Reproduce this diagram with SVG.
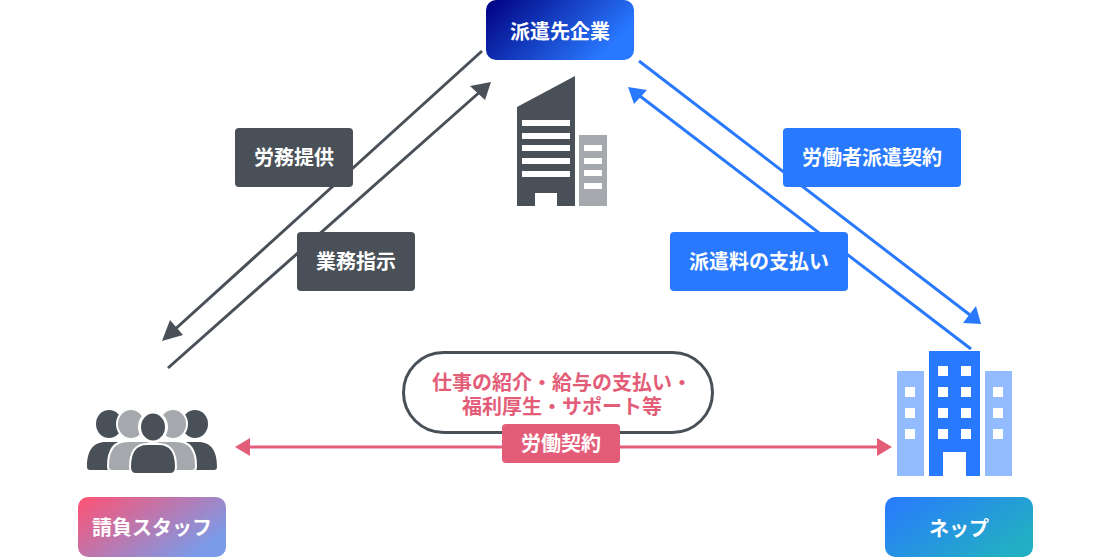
<svg xmlns="http://www.w3.org/2000/svg" width="1120" height="560" viewBox="0 0 1120 560">
<style>
text{font-family:"Noto Sans CJK JP","Noto Sans",sans-serif;font-weight:700;text-anchor:middle;font-size:20px}
.w{fill:#fff}.p{fill:#e35d78}
.dk{fill:#495057}.lg{fill:#a5a9ad}.bl{fill:#2979ff}.lb{fill:#93bbff}.pk{fill:#e35d78}
.ld{stroke:#495057;stroke-width:3;fill:none}.lbl{stroke:#2979ff;stroke-width:3;fill:none}.lp{stroke:#e35d78;stroke-width:3;fill:none}
</style>
<defs>
<linearGradient id="g1" x1="0" y1="0" x2="1" y2="0.4"><stop offset="0" stop-color="#000080"/><stop offset="1" stop-color="#2979ff"/></linearGradient>
<linearGradient id="g2" x1="0" y1="0" x2="1" y2="0.6"><stop offset="0" stop-color="#ff5273"/><stop offset="1" stop-color="#7b9be8"/></linearGradient>
<linearGradient id="g3" x1="0" y1="0" x2="1" y2="0.6"><stop offset="0" stop-color="#2979ff"/><stop offset="1" stop-color="#22aec4"/></linearGradient>
</defs>
<g id="connectors">
<path class="ld" d="M482 51L172 332"/><polygon class="dk" points="162,341 170,320 183,335"/>
<path class="ld" d="M168 368L482 90"/><polygon class="dk" points="491,82 485,100 470,86"/>
<path class="lbl" d="M639 61L970 315"/><polygon class="bl" points="981,324 963,323 976,306"/>
<path class="lbl" d="M971 349L636 93"/><polygon class="bl" points="628,87 647,90 634,104"/>
<path class="lp" d="M248 447H878"/><polygon class="pk" points="235,447 250,438 250,456"/><polygon class="pk" points="892,447 877,438 877,456"/>
</g>
<g id="client">
<rect x="486" y="0" width="148" height="60" rx="10" fill="url(#g1)"/>
<text class="w" x="560" y="39">派遣先企業</text>
<path class="dk" d="M517 107L575 76V206H557V193H535V206H517Z"/>
<path class="w" d="M522 120H570V126H522ZM522 133H570V139H522ZM522 145H570V151H522ZM522 158H570V164H522ZM522 171H570V177H522Z"/>
<rect class="lg" x="579" y="135" width="28" height="71"/>
<path class="w" d="M584 145H602V151H584ZM584 158H602V164H584ZM584 170H602V176H584ZM584 183H602V189H584Z"/>
</g>
<g id="staff">
<ellipse class="dk" cx="109" cy="424" rx="13" ry="14"/><ellipse class="dk" cx="195" cy="424" rx="13" ry="14"/>
<path class="dk" d="M87 467C87 452 92 442 106 442L125 442V470H90Q87 470 87 467ZM217 467C217 452 212 442 198 442L179 442V470H214Q217 470 217 467Z"/>
<ellipse class="lg" cx="131" cy="424" rx="14" ry="15" stroke="#fff" stroke-width="2"/><ellipse class="lg" cx="173" cy="424" rx="14" ry="15" stroke="#fff" stroke-width="2"/>
<path class="lg" d="M108 466C108 450 114 441 128 441L176 441C190 441 196 450 196 466Q196 471 192 471H112Q108 471 108 466Z" stroke="#fff" stroke-width="2"/>
<ellipse class="dk" cx="153" cy="427" rx="13.500" ry="15" stroke="#fff" stroke-width="3"/>
<path class="dk" d="M130 467C130 451 136 444 147 444H159C170 444 176 451 176 467Q176 474 170 474H136Q130 474 130 467Z" stroke="#fff" stroke-width="2"/>
<rect x="78" y="497" width="148" height="60" rx="10" fill="url(#g2)"/>
<text class="w" x="152" y="535">請負スタッフ</text>
</g>
<g id="nep">
<rect class="bl" x="929" y="351" width="51" height="125"/>
<rect class="w" x="943" y="452" width="23" height="24"/>
<path class="w" d="M938 366h10v10h-10ZM961 366h10v10h-10ZM938 387h10v10h-10ZM961 387h10v10h-10ZM938 408h10v10h-10ZM961 408h10v10h-10ZM938 429h10v10h-10ZM961 429h10v10h-10Z"/>
<rect class="lb" x="897" y="371" width="27" height="105"/><rect class="lb" x="985" y="371" width="27" height="105"/>
<path class="w" d="M905 387h10v10h-10ZM905 408h10v10h-10ZM905 429h10v10h-10ZM993 387h10v10h-10ZM993 408h10v10h-10ZM993 429h10v10h-10Z"/>
<rect x="885" y="497" width="148" height="60" rx="10" fill="url(#g3)"/>
<text class="w" x="959" y="536">ネップ</text>
</g>
<g id="label-roumu"><rect class="dk" x="235" y="128" width="118" height="59" rx="4"/><text class="w" x="294" y="165">労務提供</text></g>
<g id="label-gyomu"><rect class="dk" x="297" y="232" width="118" height="59" rx="4"/><text class="w" x="356" y="269">業務指示</text></g>
<g id="label-haken"><rect class="bl" x="783" y="128" width="178" height="59" rx="4"/><text class="w" x="872" y="165">労働者派遣契約</text></g>
<g id="label-shiharai"><rect class="bl" x="670" y="232" width="178" height="59" rx="4"/><text class="w" x="759" y="269">派遣料の支払い</text></g>
<g id="pill"><rect x="403.500" y="352.500" width="309" height="80" rx="40" fill="#fff" stroke="#495057" stroke-width="3"/>
<text class="p"><tspan x="562" y="390">仕事の紹介・給与の支払い・</tspan><tspan x="562" y="414">福利厚生・サポート等</tspan></text></g>
<g id="label-keiyaku"><rect class="pk" x="502" y="424" width="118" height="39" rx="4"/><text class="w" x="561" y="451">労働契約</text></g>
</svg>
